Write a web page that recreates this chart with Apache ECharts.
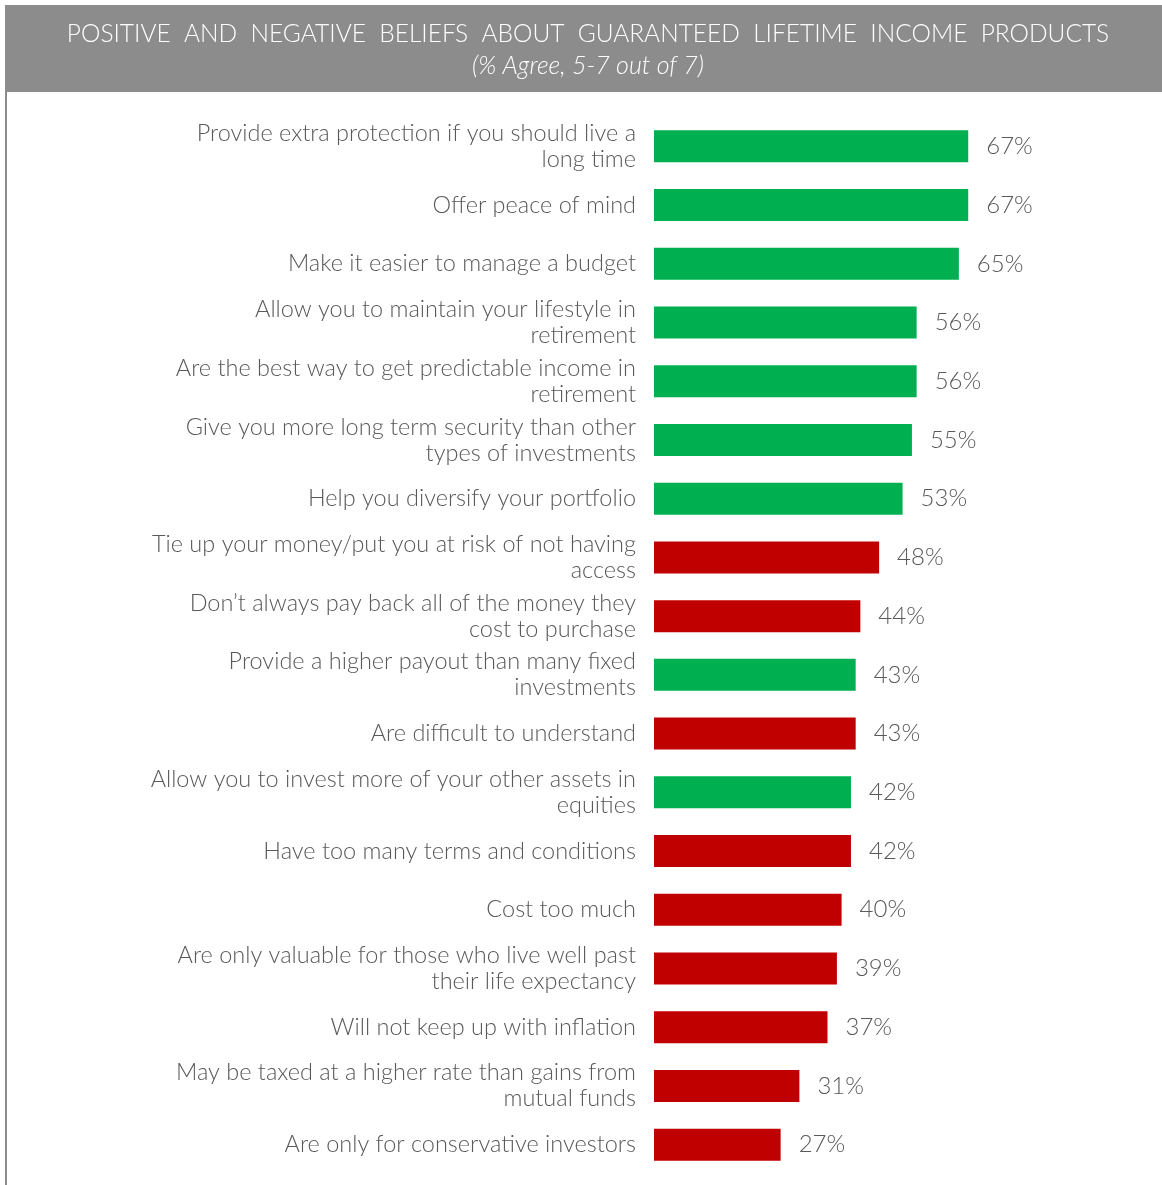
<!DOCTYPE html>
<html>
<head>
<meta charset="utf-8">
<script src="https://cdn.jsdelivr.net/npm/echarts@6/dist/echarts.min.js"></script>
<style>
  html, body { margin: 0; padding: 0; background: #fff; }
  #chart { width: 1162px; height: 1185px; }
</style>
</head>
<body>
<div id="chart"></div>
<script>
// beliefs, top to bottom as in the source chart
const beliefs = [
  'Provide extra protection if you should live a\nlong time',
  'Offer peace of mind',
  'Make it easier to manage a budget',
  'Allow you to maintain your lifestyle in\nretirement',
  'Are the best way to get predictable income in\nretirement',
  'Give you more long term security than other\ntypes of investments',
  'Help you diversify your portfolio',
  'Tie up your money/put you at risk of not having\naccess',
  'Don\u2019t always pay back all of the money they\ncost to purchase',
  'Provide a higher payout than many fixed\ninvestments',
  'Are difficult to understand',
  'Allow you to invest more of your other assets in\nequities',
  'Have too many terms and conditions',
  'Cost too much',
  'Are only valuable for those who live well past\ntheir life expectancy',
  'Will not keep up with inflation',
  'May be taxed at a higher rate than gains from\nmutual funds',
  'Are only for conservative investors'
];
const agreePct = [67, 67, 65, 56, 56, 55, 53, 48, 44, 43, 43, 42, 42, 40, 39, 37, 31, 27];
const tone = ['pos', 'pos', 'pos', 'pos', 'pos', 'pos', 'pos', 'neg', 'neg', 'pos', 'neg', 'pos', 'neg', 'neg', 'neg', 'neg', 'neg', 'neg'];

const titleText = 'POSITIVE  AND  NEGATIVE  BELIEFS  ABOUT  GUARANTEED  LIFETIME  INCOME  PRODUCTS';
const subtitleText = '(% Agree, 5-7 out of 7)';

const GREEN = '#00B050';
const RED = '#C00000';
const FONT = '"Lato", "DejaVu Sans", sans-serif';

const myChart = echarts.init(document.getElementById('chart'), null, { renderer: 'canvas' });

const option = {
  animation: false,
  backgroundColor: '#ffffff',
  graphic: [
    { type: 'rect', shape: { x: 5, y: 5, width: 1157, height: 87 }, style: { fill: '#8c8c8c' } },
    { type: 'rect', shape: { x: 5, y: 92, width: 2, height: 1093 }, style: { fill: '#8c8c8c' } },
    {
      type: 'text', x: 588, y: 34,
      style: { text: titleText, fill: '#ffffff', font: '300 24.5px ' + FONT, align: 'center', verticalAlign: 'middle' }
    },
    {
      type: 'text', x: 588, y: 66,
      style: { text: subtitleText, fill: '#ffffff', font: 'italic 300 25px ' + FONT, align: 'center', verticalAlign: 'middle' }
    }
  ],
  grid: { left: 654, width: 469, top: 117, height: 1057 },
  xAxis: {
    type: 'value', min: 0, max: 100,
    show: false
  },
  yAxis: {
    type: 'category',
    inverse: true,
    data: beliefs,
    axisLine: { show: false },
    axisTick: { show: false },
    axisLabel: {
      color: '#595959',
      fontFamily: FONT,
      fontWeight: 300,
      fontSize: 23.5,
      lineHeight: 26,
      margin: 18,
      align: 'right'
    }
  },
  series: [{
    type: 'bar',
    barWidth: 32,
    data: agreePct.map((v, i) => ({
      value: v,
      itemStyle: { color: tone[i] === 'pos' ? GREEN : RED }
    })),
    label: {
      show: true,
      position: 'right',
      distance: 18,
      formatter: '{c}%',
      color: '#595959',
      fontFamily: FONT,
      fontWeight: 300,
      fontSize: 24
    }
  }]
};

myChart.setOption(option);
</script>
</body>
</html>
